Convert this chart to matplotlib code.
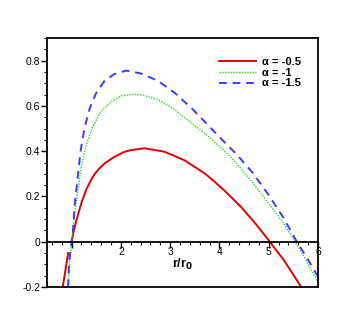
import numpy as np
import matplotlib.pyplot as plt
from matplotlib.ticker import MultipleLocator

# values
r_red = [0.82, 0.93, np.nan, 1.0, 1.05, 1.1, 1.13, 1.2, 1.3, 1.4, 1.47, 1.57, 1.67, 1.87, 2.07, 2.21,
         2.48, 2.88, 3.29, 3.70, 3.90, 4.17, 4.44, 4.71, 4.98, 5.32, 5.66]
y_red = [-0.20, -0.05, np.nan, 0.0, 0.055, 0.097, 0.12, 0.172, 0.232, 0.275, 0.3, 0.325, 0.346, 0.375, 0.397, 0.405,
         0.413, 0.398, 0.36, 0.302, 0.266, 0.212, 0.153, 0.086, 0.012, -0.085, -0.20]

r_green = [0.92, 1.0, 1.06, 1.13, 1.20, 1.30, 1.43, 1.60, 1.81, 2.01, 2.21, 2.38, 2.75,
           3.09, 3.43, 3.76, 4.0, 4.24, 4.58, 4.92, 5.26, 5.53, 5.73, 6.0]
y_green = [-0.20, 0.0, 0.115, 0.234, 0.338, 0.428, 0.509, 0.577, 0.621, 0.644, 0.651, 0.651, 0.629,
           0.584, 0.525, 0.468, 0.421, 0.372, 0.287, 0.191, 0.094, 0.004, -0.07, -0.18]

r_blue = [0.93, 0.95, 1.0, 1.03, 1.06, 1.12, 1.18, 1.26, 1.37, 1.50, 1.67, 1.87, 2.11,
          2.41, 2.75, 3.09, 3.43, 3.76, 4.02, 4.34, 4.68, 4.98, 5.29, 5.56, 5.8, 6.0]
y_blue = [-0.20, -0.085, 0.0, 0.055, 0.16, 0.278, 0.398, 0.502, 0.591, 0.658, 0.711, 0.741, 0.756,
          0.743, 0.711, 0.658, 0.591, 0.517, 0.458, 0.388, 0.303, 0.212, 0.109, 0.004, -0.08, -0.155]

labels = ['α = -0.5', 'α = -1', 'α = -1.5']
x_ticks = [1, 2, 3, 4, 5, 6]
x_ticklabels = ['', '2', '3', '4', '5', '6']
y_ticks = [-0.2, 0, 0.2, 0.4, 0.6, 0.8]
y_ticklabels = ['-0.2', '0', '0.2', '0.4', '0.6', '0.8']

plt.rcParams['font.family'] = ['Liberation Sans', 'DejaVu Sans']

fig = plt.figure(figsize=(3.63, 3.23), dpi=100)
ax = fig.add_axes([47/363, 1 - 287/323, 271/363, 249/323])

ax.plot(r_red, y_red, color='#e00000', lw=1.4, label=labels[0])
ax.plot(r_green, y_green, color='#22dd22', lw=1.0, ls=(0, (1, 1)), label=labels[1])
ax.plot(r_blue, y_blue, color='#3a3aff', lw=1.4, ls=(0, (4, 3)), label=labels[2])

ax.set_xlim(0.5, 6)
ax.set_ylim(-0.2, 0.9)

# x axis drawn along y = 0, frame closed underneath
ax.spines['bottom'].set_position(('data', 0))
for s in ax.spines.values():
    s.set_linewidth(1.3)
ax.plot([0, 1], [0, 0], transform=ax.transAxes, color='k', lw=1.3, clip_on=False)

ax.set_xticks(x_ticks)
ax.set_xticklabels(x_ticklabels)
ax.xaxis.set_minor_locator(MultipleLocator(0.2))
ax.set_yticks(y_ticks)
ax.set_yticklabels(y_ticklabels)
ax.yaxis.set_minor_locator(MultipleLocator(0.05))
ax.tick_params(which='major', direction='out', length=4, width=1, labelsize=7.5, pad=1)
ax.tick_params(axis='x', which='major', pad=0)
ax.tick_params(which='minor', direction='out', length=2, width=0.8)

ax.text(0.5, 0.09, r'r/r$_\mathbf{0}$', transform=ax.transAxes, ha='center', va='center',
        fontsize=9, fontweight='bold')

leg = ax.legend(loc='upper right', bbox_to_anchor=(0.975, 0.965), frameon=False,
                handlelength=3.3, handletextpad=0.6, labelspacing=0.08,
                prop={'size': 8, 'weight': 'bold'})

fig.savefig('out.png', dpi=100)
